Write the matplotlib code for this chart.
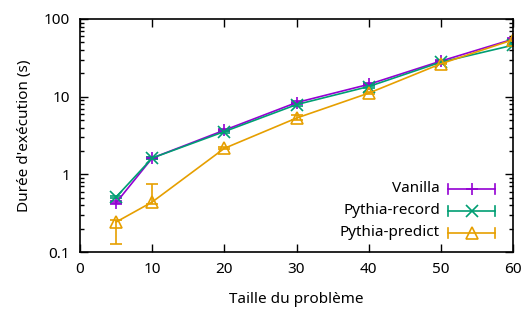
import matplotlib
matplotlib.use("Agg")
import matplotlib.pyplot as plt
from matplotlib.ticker import FixedLocator, LogLocator, NullFormatter, FixedFormatter

plt.rcParams['font.family'] = ['Noto Sans', 'DejaVu Sans']

sizes = [5, 10, 20, 30, 40, 50, 60]
vanilla = [0.43, 1.62, 3.7, 8.4, 14.4, 28.7, 55.0]
vanilla_lo = [0.41, 1.58, 3.6, 8.1, 14.0, 28.0, 53.0]
vanilla_hi = [0.45, 1.66, 3.8, 8.7, 14.8, 29.4, 57.0]
record = [0.51, 1.62, 3.55, 7.9, 13.5, 27.8, 46.0]
record_lo = [0.49, 1.58, 3.45, 7.6, 13.1, 27.2, 45.0]
record_hi = [0.53, 1.66, 3.65, 8.2, 13.9, 28.4, 47.0]
predict = [0.243, 0.44, 2.16, 5.3, 11.1, 26.5, 54.0]
predict_lo = [0.127, 0.42, 2.10, 5.0, 10.7, 26.0, 52.5]
predict_hi = [0.26, 0.75, 2.25, 5.8, 11.5, 27.0, 55.5]

labels = ['Vanilla', 'Pythia-record', 'Pythia-predict']
colors = ['#9400D3', '#009E73', '#E69F00']
markers = ['+', 'x', '^']

FS = 11

fig = plt.figure(figsize=(5.25, 3.16), dpi=100)
ax = fig.add_axes([80/525, 1-252/316, 433/525, 233/316])

series = [(vanilla, vanilla_lo, vanilla_hi), (record, record_lo, record_hi), (predict, predict_lo, predict_hi)]
for (y, lo, hi), c, m in zip(series, colors, markers):
    yerr = [[v - l for v, l in zip(y, lo)], [h - v for v, h in zip(y, hi)]]
    ax.errorbar(sizes, y, yerr=yerr, color=c, marker=m, markersize=8,
                markerfacecolor='none', markeredgecolor=c, markeredgewidth=1.2,
                lw=1.2, capsize=4, elinewidth=1.2, capthick=1.2)

ax.set_yscale('log')
ax.set_xlim(0, 60)
ax.set_ylim(0.1, 100)
ax.xaxis.set_major_locator(FixedLocator([0, 10, 20, 30, 40, 50, 60]))
ax.yaxis.set_major_locator(FixedLocator([0.1, 1, 10, 100]))
ax.yaxis.set_major_formatter(FixedFormatter(['0.1', '1', '10', '100']))
ax.yaxis.set_minor_locator(LogLocator(base=10, subs=range(2, 10)))
ax.yaxis.set_minor_formatter(NullFormatter())
ax.tick_params(which='both', direction='in', top=True, right=True, labelsize=FS, pad=7)
ax.tick_params(which='major', length=6, width=1)
ax.tick_params(which='minor', length=3, width=1)
for s in ax.spines.values():
    s.set_linewidth(1.2)

ax.set_xlabel('Taille du problème', fontsize=FS, labelpad=11)
ax.set_ylabel("Durée d'exécution (s)", fontsize=FS, labelpad=9)

# Gnuplot-style legend drawn in figure pixel coordinates
rows_y = [189, 211, 233]
for lab, c, m, yp in zip(labels, colors, markers, rows_y):
    fy = 1 - yp/316
    fig.text(440/525, fy, lab, ha='right', va='center', fontsize=FS)
    x0, x1 = 448/525, 495/525
    fig.add_artist(plt.Line2D([x0, x1], [fy, fy], color=c, lw=1.2, transform=fig.transFigure))
    for xx in (x0, x1):
        fig.add_artist(plt.Line2D([xx, xx], [fy - 5/316, fy + 5/316], color=c, lw=1.2, transform=fig.transFigure))
    fig.add_artist(plt.Line2D([(x0 + x1)/2], [fy], marker=m, markersize=8, markerfacecolor='none',
                              markeredgecolor=c, markeredgewidth=1.2, color=c, transform=fig.transFigure))

fig.savefig('out.png', dpi=100)
